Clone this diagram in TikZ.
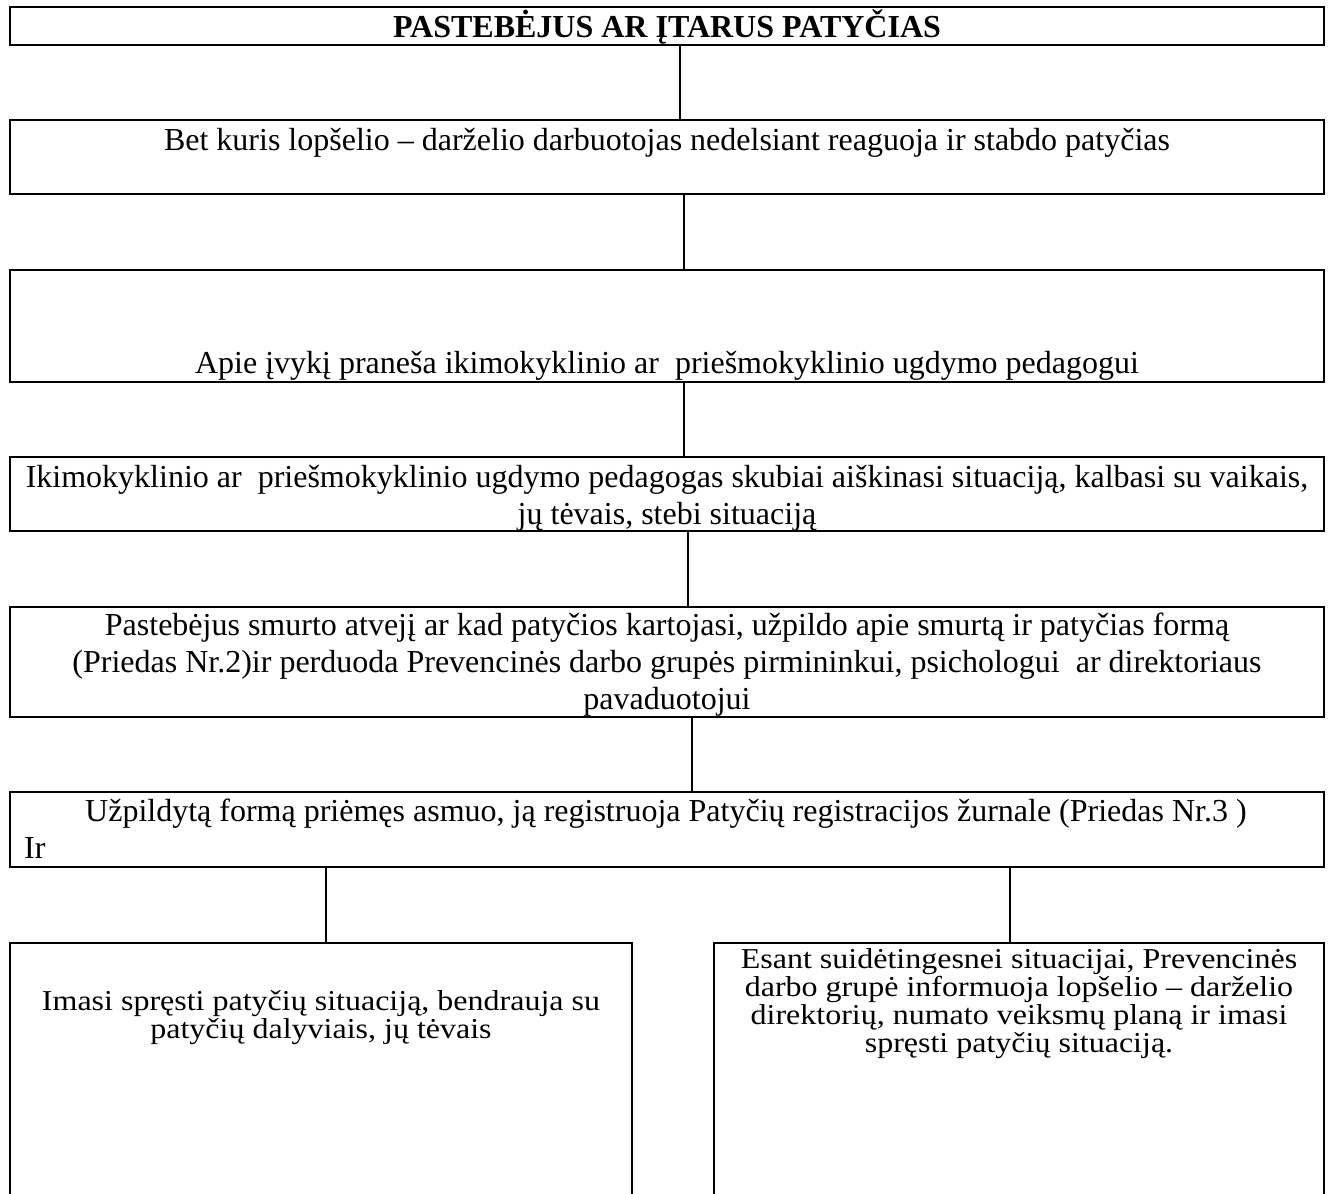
\documentclass[tikz,border=0pt]{standalone}
\usepackage{fontspec}
\usepackage{graphicx}
\setmainfont{Liberation Serif}
\newcommand{\squash}[1]{\scalebox{1}[0.9]{#1}}
\begin{document}
\begin{tikzpicture}[x=1pt,y=-1pt,
  box/.style={draw,line width=2pt,rectangle,inner sep=0pt,outer sep=0pt,minimum width=1314pt},
  conn/.style={line width=2pt},
  open/.style={line width=2pt},
  ln/.style={anchor=base,inner sep=0pt,font=\fontsize{32pt}{36.9pt}\selectfont},
  lnw/.style={anchor=base west,inner sep=0pt,font=\fontsize{32pt}{36.9pt}\selectfont}]
\useasboundingbox (0,0) rectangle (1331,1194);
% boxes
\node[box,minimum height=38pt]  (b1) at (667,26) {};
\node[box,minimum height=74pt]  (b2) at (667,157) {};
\node[box,minimum height=112pt] (b3) at (667,326) {};
\node[box,minimum height=74pt]  (b4) at (667,494) {};
\node[box,minimum height=110pt] (b5) at (667,662) {};
\node[box,minimum height=75pt]  (b6) at (667,829.5) {};
% texts
\node[ln,font=\fontsize{32pt}{36.9pt}\selectfont\bfseries] (t1) at (667,37) {PASTEBĖJUS AR ĮTARUS PATYČIAS};
\node[ln] (t2) at (667,150) {Bet kuris lopšelio – darželio darbuotojas nedelsiant reaguoja ir stabdo patyčias};
\node[ln] (t3) at (667,373) {Apie įvykį praneša ikimokyklinio ar~~priešmokyklinio ugdymo pedagogui};
\node[ln] (t4a) at (667,487) {Ikimokyklinio ar~~priešmokyklinio ugdymo pedagogas skubiai aiškinasi situaciją, kalbasi su vaikais,};
\node[ln] (t4b) at (667,524) {jų tėvais, stebi situaciją};
\node[ln] (t5a) at (667,635) {Pastebėjus smurto atvejį ar kad patyčios kartojasi, užpildo apie smurtą ir patyčias formą};
\node[ln] (t5b) at (667,672) {(Priedas Nr.2)ir perduoda Prevencinės darbo grupės pirmininkui, psichologui~~ar direktoriaus};
\node[ln] (t5c) at (667,709) {pavaduotojui};
\node[lnw] (t6a) at (85,821) {Užpildytą formą priėmęs asmuo, ją registruoja Patyčių registracijos žurnale (Priedas Nr.3 )};
\node[lnw] (t6b) at (24,858) {Ir};
% bottom open boxes
\coordinate (la) at (10,1196);
\coordinate (lb) at (10,943);
\coordinate (lc) at (632,943);
\coordinate (ld) at (632,1196);
\coordinate (ra) at (714,1196);
\coordinate (rb) at (714,943);
\coordinate (rc) at (1324,943);
\coordinate (rd) at (1324,1196);
\draw[open] (la) -- (lb) -- (lc) -- (ld);
\draw[open] (ra) -- (rb) -- (rc) -- (rd);
\coordinate (ltop) at (326,943);
\coordinate (rtop) at (1010,943);
\node[ln] (t7a) at (321,1010) {\squash{Imasi spręsti patyčių situaciją, bendrauja su}};
\node[ln] (t7b) at (321,1038) {\squash{patyčių dalyviais, jų tėvais}};
\node[ln] (t8a) at (1019,968) {\squash{Esant suidėtingesnei situacijai, Prevencinės}};
\node[ln] (t8b) at (1019,996) {\squash{darbo grupė informuoja lopšelio – darželio}};
\node[ln] (t8c) at (1019,1024) {\squash{direktorių, numato veiksmų planą ir imasi}};
\node[ln] (t8d) at (1019,1052) {\squash{spręsti patyčių situaciją.}};
% connectors
\draw[conn] ([xshift=13pt]b1.south) -- ([xshift=13pt]b2.north);
\draw[conn] ([xshift=17pt]b2.south) -- ([xshift=17pt]b3.north);
\draw[conn] ([xshift=17pt]b3.south) -- ([xshift=17pt]b4.north);
\draw[conn] ([xshift=21pt]b4.south) -- ([xshift=21pt]b5.north);
\draw[conn] ([xshift=25pt]b5.south) -- ([xshift=25pt]b6.north);
\draw[conn] (b6.south -| ltop) -- (ltop);
\draw[conn] (b6.south -| rtop) -- (rtop);
\end{tikzpicture}
\end{document}
